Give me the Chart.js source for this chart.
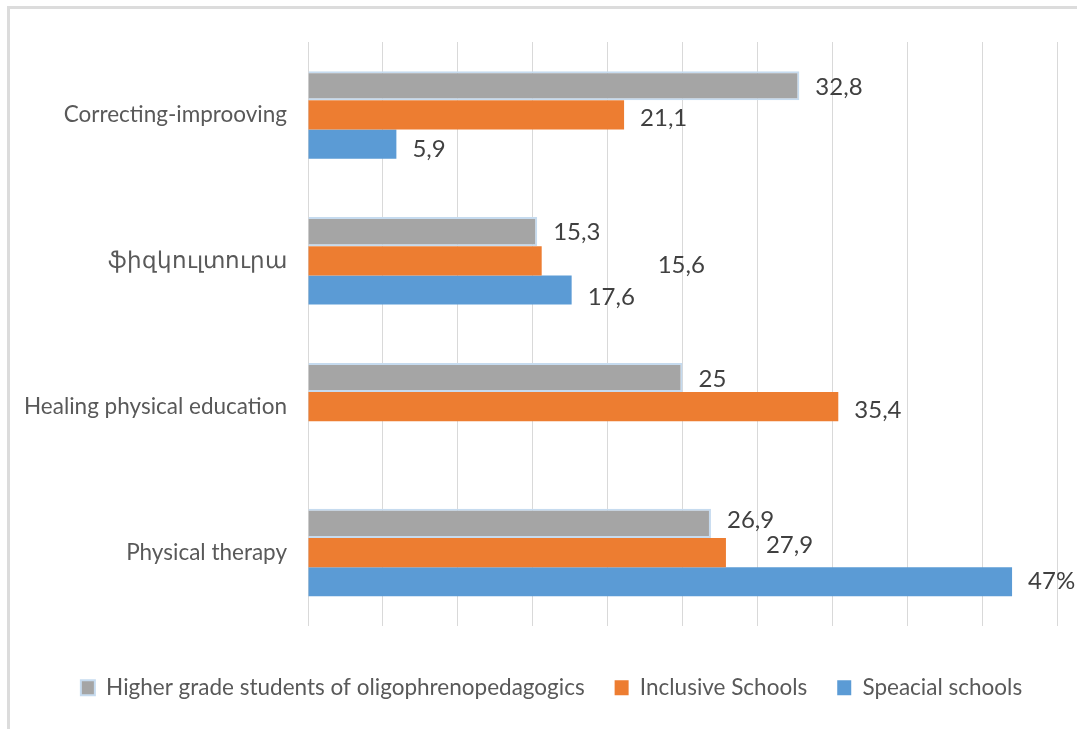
<!DOCTYPE html>
<html>
<head>
<meta charset="utf-8">
<title>Physical education survey</title>
<script src="https://cdn.jsdelivr.net/npm/chart.js@4.4.0/dist/chart.umd.min.js"></script>
<style>
  html, body { margin: 0; padding: 0; background: #fff; }
  body { width: 1077px; height: 729px; overflow: hidden; position: relative; }
  .frame {
    position: absolute; left: 7px; top: 6px; width: 1100px; height: 760px;
    border-top: 3px solid #dcdcdc; border-left: 3px solid #dcdcdc;
  }
  #chart { position: absolute; left: 0; top: 0; }
</style>
</head>
<body>
<div class="frame"></div>
<canvas id="chart" width="1077" height="729"></canvas>
<script>
/* Data */
const categories = ["Correcting-improoving", "ֆիզկուլտուրա", "Healing physical education", "Physical therapy"];
const seriesNames = ["Higher grade students of oligophrenopedagogics", "Inclusive Schools", "Speacial schools"];

const higherGrade = [32.8, 15.3, 25, 26.9];
const inclusive   = [21.1, 15.6, 35.4, 27.9];
const special     = [5.9, 17.6, null, 47];

const higherGradeText = ["32,8", "15,3", "25", "26,9"];
const inclusiveText   = ["21,1", "15,6", "35,4", "27,9"];
const specialText     = ["5,9", "17,6", "", "47%"];

const xTicks = { min: 0, max: 50, step: 5 };

/* ---------- Styling ---------- */
const FONT = "Lato, 'Liberation Sans', sans-serif";
const colors = ["#a5a5a5", "#ed7d31", "#5b9bd5"];
// some labels sit further right in the original
const labelShift = [[0, 0, 0, 0], [0, 100, 0, 24], [0, 0, 0, 0]];
const labelDrop  = [[2, 1, 2, -3], [3, 4, 4, -7], [5, 7, 0, 0]];

const valueLabels = {
  id: "valueLabels",
  afterDatasetsDraw(chart) {
    const ctx = chart.ctx;
    const texts = [higherGradeText, inclusiveText, specialText];
    ctx.save();
    ctx.font = "24px " + FONT;
    ctx.fillStyle = "#404040";
    ctx.textAlign = "left";
    ctx.textBaseline = "middle";
    chart.data.datasets.forEach((ds, di) => {
      chart.getDatasetMeta(di).data.forEach((bar, i) => {
        if (ds.data[i] == null) return;
        ctx.fillText(texts[di][i], bar.x + 16 + labelShift[di][i], bar.y + labelDrop[di][i]);
      });
    });
    ctx.restore();
  }
};

// category labels run past the left padding; let them use the whole strip
const unclipLabels = {
  id: "unclipLabels",
  afterLayout(chart) { chart.scales.y.left = 0; }
};

function buildDatasets() {
  return [higherGrade, inclusive, special].map((vals, i) => ({
    label: seriesNames[i],
    data: vals,
    backgroundColor: colors[i],
    borderColor: i === 0 ? "#c6dbef" : colors[i],
    borderWidth: i === 0 ? 2 : 0,
    categoryPercentage: 0.6,
    barPercentage: 1.0
  }));
}

new Chart(document.getElementById("chart"), {
  type: "bar",
  data: { labels: categories, datasets: buildDatasets() },
  plugins: [valueLabels, unclipLabels],
  options: {
    indexAxis: "y",
    responsive: false,
    animation: false,
    layout: { padding: { left: 46, right: 20, top: 42, bottom: 20 } },
    plugins: {
      tooltip: { enabled: false },
      legend: {
        position: "bottom",
        labels: {
          font: { family: FONT, size: 22.5 },
          color: "#595959",
          boxWidth: 14,
          boxHeight: 15,
          padding: 30
        }
      }
    },
    scales: {
      x: {
        min: xTicks.min,
        max: xTicks.max,
        ticks: { display: false, stepSize: xTicks.step },
        grid: { color: "#d9d9d9", drawTicks: false },
        border: { display: false },
        afterFit(scale) { scale.height = 21; }
      },
      y: {
        grid: { display: false },
        border: { display: false },
        ticks: { font: { family: FONT, size: 22.5 }, color: "#595959", padding: 13 },
        afterFit(scale) { scale.width = 262; }
      }
    }
  }
});
</script>
</body>
</html>
